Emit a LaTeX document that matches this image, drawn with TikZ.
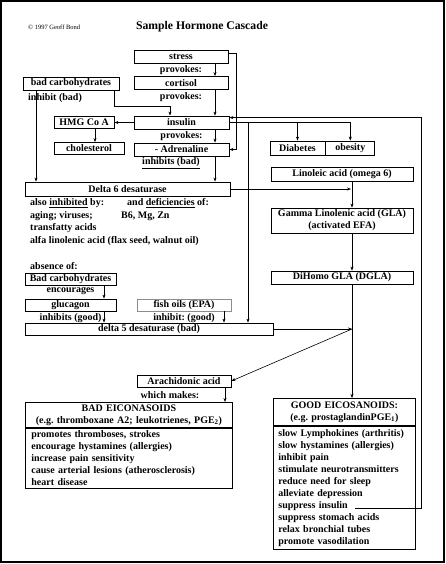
\documentclass[tikz,border=0pt]{standalone}
\usepackage{fontspec}
\setmainfont{Liberation Serif}
\usetikzlibrary{positioning,arrows.meta}
\definecolor{softgray}{HTML}{8C8C8C}
\frenchspacing

\begin{document}
\begin{tikzpicture}[
      x=1pt, y=-1pt,
      every node/.style={font=\fontsize{10}{12}\selectfont\bfseries, inner sep=0pt},
      box/.style={draw, line width=0.8pt, minimum height=13pt},
      panel/.style={draw, line width=0.8pt},
      link/.style={-{Stealth[length=4pt,width=3pt]}, line width=0.6pt}
    ]
      \useasboundingbox (0,0) rectangle (446,564);
      \draw[line width=1.2pt] (1,1) rectangle (444,562);

      \node[font=\fontsize{6.5}{7}\selectfont, anchor=west] (copy) at (28,27) {\textcopyright\ 1997 Geoff Bond};
      \node[font=\fontsize{11.7}{14}\selectfont\bfseries] (title) at (202,27) {Sample Hormone Cascade};

      % hormone chain
      \node[box, minimum width=94pt] (stress) at (181,56.5) {stress};
      \node[below=2pt of stress] (prov1) {provokes:};
      \node[box, minimum width=94pt] (cortisol) at (181,83) {cortisol};
      \node[below=2pt of cortisol] (prov2) {provokes:};
      \node[box, minimum width=95pt] (insulin) at (181.5,122.5) {insulin};
      \node[below=2pt of insulin] (prov3) {provokes:};
      \node[box, minimum width=95pt] (adren) at (181.5,149.5) {- Adrenaline};
      \node (inhbad) at (171,163) {\underline{inhibits (bad)}};

      \node[box, minimum width=96pt] (badcarb) at (71,83.5) {bad carbohydrates};
      \node[anchor=west] (inhcarb) at (28,98) {inhibit (bad)};
      \node[box, minimum width=60pt, minimum height=12pt] (hmg) at (84,122.5) {HMG Co A};
      \node[box, minimum width=70pt, minimum height=12pt] (chol) at (89,148.5) {cholesterol};

      \node[box, minimum width=55pt, minimum height=14pt] (diab) at (297.5,148) {Diabetes};
      \node[box, minimum width=49pt, minimum height=14pt, right=0pt of diab] (obes) {obesity};

      % fatty acid chain
      \node[box, minimum width=142pt, minimum height=14pt] (linol) at (342,174.5) {Linoleic acid (omega 6)};
      \node[box, minimum width=142pt, minimum height=25pt, align=center] (gla) at (342,220.5) {Gamma Linolenic acid (GLA)\\(activated EFA)};
      \node[box, minimum width=142pt] (dgla) at (342,277.5) {DiHomo GLA (DGLA)};

      \node[box, minimum width=205pt, minimum height=14pt] (delta6) at (127.5,189) {Delta 6 desaturase};
      \node[anchor=west] (also) at (30,203) {also \underline{inhibited} by:};
      \node[anchor=west] (defic) at (127,203) {and \underline{deficiencies} of:};
      \node[anchor=west] (aging) at (30,216) {aging; viruses;};
      \node[anchor=west] (mins) at (121,216) {B6, Mg, Zn};
      \node[anchor=west] (trans) at (30,228) {transfatty acids};
      \node[anchor=west] (alfa) at (30,241) {alfa linolenic acid (flax seed, walnut oil)};
      \node[anchor=west] (absence) at (30,266) {absence of:};

      \node[box, minimum width=91pt, minimum height=12pt] (badcarbB) at (70.5,279) {Bad carbohydrates};
      \node[below=2pt of badcarbB] (encour) {encourages};
      \node[box, minimum width=91pt, minimum height=12pt] (glucagon) at (70.5,305) {glucagon};
      \node[below=2pt of glucagon] (inhgood) {inhibits (good)};
      \node[box, draw=softgray, line width=0.5pt, minimum width=94pt, minimum height=12pt] (fish) at (184,305) {fish oils (EPA)};
      \node[below=2pt of fish] (inhfish) {inhibit: (good)};
      \node[box, minimum width=248pt, minimum height=12pt] (delta5) at (149,329) {delta 5 desaturase (bad)};

      \node[box, minimum width=94pt, minimum height=12pt] (arach) at (184,381) {Arachidonic acid};
      \node (makes) at (170,395) {which makes:};

      % eicosanoids
      \node[panel, anchor=north west, text width=207pt, minimum height=25pt, align=center] (badhead) at (25,402)
        {BAD EICONASOIDS\\(e.g. thromboxane A2; leukotrienes, PGE\textsubscript{2})};
      \node[panel, anchor=north, text width=195pt, inner xsep=6pt, minimum height=60pt, align=left] (badbody) at (badhead.south)
        {promotes thromboses, strokes\\
         encourage hystamines (allergies)\\
         increase pain sensitivity\\
         cause arterial lesions (atherosclerosis)\\
         heart disease};
      \node[panel, anchor=north west, text width=142pt, minimum height=27pt, align=center] (goodhead) at (273,398)
        {GOOD EICOSANOIDS:\\(e.g. prostaglandinPGE\textsubscript{1})};
      \node[panel, anchor=north, text width=132pt, inner xsep=5pt, minimum height=123pt, align=left] (goodbody) at (goodhead.south)
        {slow Lymphokines (arthritis)\\
         slow hystamines (allergies)\\
         inhibit pain\\
         stimulate neurotransmitters\\
         reduce need for sleep\\
         alleviate depression\\
         suppress insulin\\
         suppress stomach acids\\
         relax bronchial tubes\\
         promote vasodilation};

      % connector columns
      \coordinate (xmain) at (215,0);
      \coordinate (xstress) at (236,0);
      \coordinate (xinsul) at (248,0);
      \coordinate (xfeed) at (421,0);
      \coordinate (xcarb) at (36,0);
      \coordinate (xcarbA) at (114,0);
      \coordinate (xcarbB) at (170,0);
      \coordinate (xhmg) at (95,0);
      \coordinate (xefa) at (352,0);
      \coordinate (xgluc) at (104,0);
      \coordinate (xfish) at (224,0);
      \coordinate (xarach) at (225,0);
      \coordinate (suppend) at (355,508);
      \coordinate (insin) at ([yshift=-2pt]insulin.north east);
      \coordinate (split) at (delta5.east -| xefa);

      \draw[link] (stress.south -| xmain) -- (cortisol.north -| xmain);
      \draw[link] (cortisol.south -| xmain) -- (insulin.north -| xmain);
      \draw[link] (insulin.south -| xmain) -- (adren.north -| xmain);
      \draw[link] (adren.south -| xmain) -- (delta6.north -| xmain);
      \draw[link] ([yshift=3pt]stress.east) -- ([yshift=3pt]stress.east -| xstress) |- (adren.east);
      \draw[link] (suppend) -| (insin -| xfeed) -- (insin);
      \draw[link] (insulin.east) -| (delta5.north -| xinsul);
      \draw[link] (insulin.east) -| (diab.north);
      \draw[link] (insulin.east) -| (obes.north);
      \draw[link] (insulin.west) -- (hmg.east);
      \draw[link] (hmg.south -| xhmg) -- (chol.north -| xhmg);
      \draw[link] (badcarb.south -| xcarb) -- (delta6.north -| xcarb);
      \draw[link] (badcarb.south -| xcarbA) -- ++(0,16) -| (insulin.north -| xcarbB);

      \draw[link] (delta6.east) -- ([xshift=-1pt]delta6.east -| xefa);
      \draw[link] (linol.south -| xefa) -- (gla.north -| xefa);
      \draw[link] (gla.south -| xefa) -- (dgla.north -| xefa);
      \draw[link, line width=0.4pt] (dgla.south -| xefa) -- (goodhead.north -| xefa);

      \draw[link] (badcarbB.south -| xgluc) -- (glucagon.north -| xgluc);
      \draw[link] (glucagon.south -| xgluc) -- (delta5.north -| xgluc);
      \draw[link] (fish.south -| xfish) -- (delta5.north -| xfish);
      \draw[link] (delta5.east) -- (split);
      \draw[link] (split) -- (arach.east);
      \draw[link] (arach.south -| xarach) -- (badhead.north -| xarach);
    \end{tikzpicture}
\end{document}
